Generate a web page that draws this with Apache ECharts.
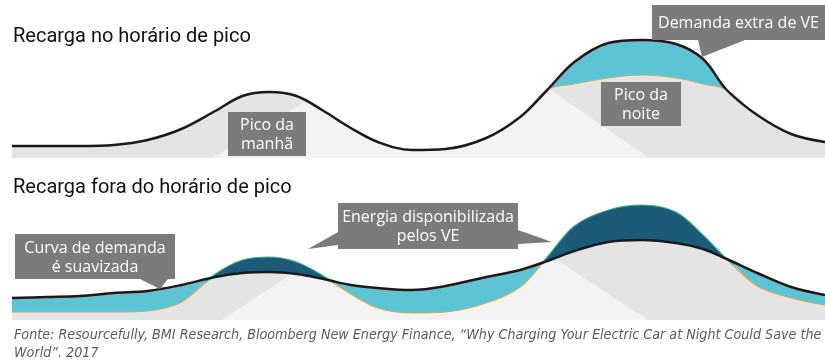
<!DOCTYPE html>
<html><head><meta charset="utf-8">
<script src="https://cdn.jsdelivr.net/npm/echarts@6/dist/echarts.min.js"></script>
<style>html,body{margin:0;padding:0;background:#fff}#c{width:825px;height:362px}</style>
</head><body><div id="c"></div>
<script>
// hours of the day at which the curves were sampled
const hours = [0,1,2,3,4,5,6,6.8,7.6,8.4,9.2,10,10.8,11.8,12.8,14,15,15.8,16.6,17.6,18.6,19.6,20.4,21.1,22,23,24];
// Top panel: peak-hour charging
const topBase = [12,12,12,13,18,29,47,62,66,62,47,30,16,8,9,20,41,68,74,80,83,80,74,68,43,24,16];
const topEV   = [12,12,12,13,18,29,47,62,66,62,47,30,16,8,9,20,41,68,96,115,118,114,99,68,43,24,16];
// Bottom panel: off-peak charging
const botBase   = [8,8,8,8,9,18,46,60,63,58,44,26,12,7,8,17,33,63,94,110,115,108,85,61,34,22,15];
const botSmooth = [22,23,24,27,29,35,43,47,48,46,41,35,32,30,34,43,50,59,69,78,80,77,71,61,47,33,25];
// hours where the original and the smoothed curve cross (bottom panel)
const crossings = [5.7,9.5,15.7,21.3];

const titles = ['Recarga no horário de pico','Recarga fora do horário de pico'];
const sourceText = 'Fonte: Resourcefully, BMI Research, Bloomberg New Energy Finance, “Why Charging Your Electric Car at Night Could Save the\nWorld”. 2017';

const pair = arr => hours.map((h,i)=>[h,arr[i]]);
const botMin = botBase.map((v,i)=>Math.min(v,botSmooth[i]));

// shaded grey texture (light centre, darker diagonal sides) used to fill under the curves
const tex = document.createElement('canvas');
tex.width = 825; tex.height = 362;
(function(){
  const g = tex.getContext('2d');
  g.fillStyle = '#f3f3f3'; g.fillRect(0,0,825,362);
  g.fillStyle = '#e4e4e4';
  const poly = pts => { g.beginPath(); pts.forEach((p,i)=> i? g.lineTo(p[0],p[1]) : g.moveTo(p[0],p[1])); g.closePath(); g.fill(); };
  poly([[0,20],[439,20],[206,162],[0,162]]);
  poly([[449,20],[825,20],[825,162],[655,162]]);
  poly([[0,185],[426,185],[219,322],[0,322]]);
  poly([[443,185],[825,185],[825,322],[651,322]]);
})();
const GREYFILL = {image: tex, repeat: 'no-repeat'};

const TEAL='#5cc5d5', BLUE='#1c5a77', TAN='#e3a24e', EDGE='#35b3a6', BLACK='#1a1a1a', BOX='#7b7b7b';
const SM = 0.35;
const area = (gi,data,color,z)=>({type:'line',xAxisIndex:gi,yAxisIndex:gi,data,smooth:SM,symbol:'none',
  lineStyle:{width:0,opacity:0},areaStyle:{color,opacity:1},z,silent:true});
const line = (gi,data,color,w,z)=>{
  const s={type:'line',xAxisIndex:gi,yAxisIndex:gi,data,smooth:SM,symbol:'none',lineStyle:{width:w},z,silent:true};
  if(color) s.lineStyle.color=color;
  return s;
};

const chart = echarts.init(document.getElementById('c'),null,{renderer:'canvas'});
const boxFont = '"Open Sans", "Noto Sans", sans-serif';
function callout(x,y,w,h,text,fs,ptrs){
  const els=[{type:'rect',shape:{x,y,width:w,height:h},style:{fill:BOX},z:50}];
  ptrs.forEach(p=>els.push({type:'polygon',shape:{points:p},style:{fill:BOX},z:50}));
  els.push({type:'text',x:x+w/2,y:y+h/2+1,style:{text,fill:'#fff',font:fs+'px '+boxFont,align:'center',verticalAlign:'middle',lineHeight:19},z:51});
  return els;
}
chart.setOption({
  animation:false,
  grid:[{left:12,right:0,top:28,height:130},{left:12,right:0,top:190,height:130}],
  xAxis:[0,1].map(i=>({type:'value',gridIndex:i,min:0,max:24,show:false})),
  yAxis:[0,1].map(i=>({type:'value',gridIndex:i,min:0,max:130,show:false})),
  visualMap:{type:'piecewise',show:false,seriesIndex:7,dimension:0,pieces:[
    {lt:crossings[0],color:TAN},{gte:crossings[0],lt:crossings[1],color:EDGE},
    {gte:crossings[1],lt:crossings[2],color:TAN},{gte:crossings[2],lt:crossings[3],color:EDGE},
    {gte:crossings[3],color:TAN}]},
  title:[
    {text:titles[0],left:8,top:22,textStyle:{fontFamily:'Roboto',fontWeight:'normal',fontSize:20,color:'#111'}},
    {text:titles[1],left:8,top:173,textStyle:{fontFamily:'Roboto',fontWeight:'normal',fontSize:20,color:'#111'}},
    {text:sourceText,left:9,top:321,textStyle:{fontFamily:'"Liberation Sans Narrow","DejaVu Sans Condensed",Roboto',fontStyle:'italic',fontWeight:'normal',fontSize:14.2,lineHeight:18,color:'#5a5a5a'}}
  ],
  series:[
    area(0,pair(topEV),TEAL,1),
    area(0,pair(topBase),GREYFILL,2),
    line(0,pair(topBase),TAN,1,3),
    line(0,pair(topEV),BLACK,2.5,4),
    area(1,pair(botBase),BLUE,1),
    area(1,pair(botSmooth),TEAL,2),
    area(1,pair(botMin),GREYFILL,3),
    line(1,pair(botBase),null,1.2,4),
    line(1,pair(botSmooth),BLACK,2.5,5)
  ],
  graphic:[].concat(
    callout(228,112,78,44,'Pico da\nmanhã',16,[]),
    callout(601,82,80,44,'Pico da\nnoite',16,[]),
    callout(652,5,173,35,'Demanda extra de VE',16,[[[698,40],[702,57],[745,40]]]),
    callout(15,234,160,45,'Curva de demanda\né suavizada',16,[[[140,279],[160,289],[168,279]]]),
    callout(338,203,180,46,'Energia disponibilizada\npelos VE',16,[[[338,232],[308,249],[338,245]],[[518,230],[552,242],[518,244]]])
  )
});
</script></body></html>
